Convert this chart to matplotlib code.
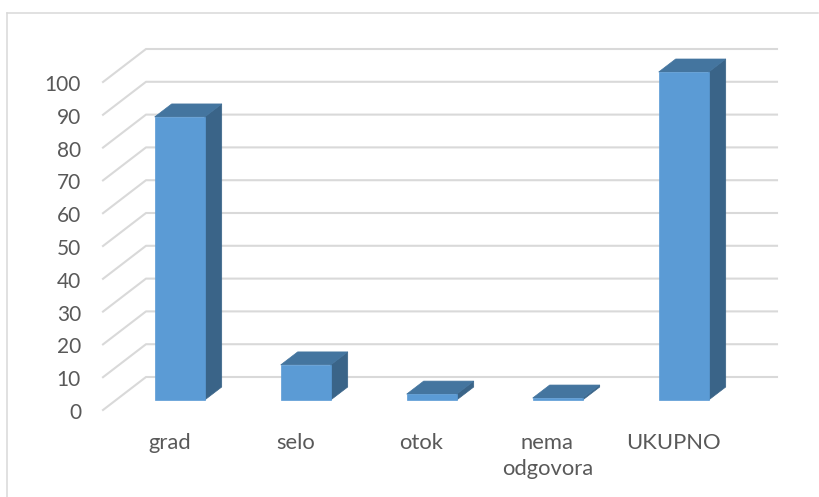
import matplotlib
matplotlib.use('Agg')
import matplotlib.pyplot as plt
from matplotlib.patches import Polygon

categories = ['grad', 'selo', 'otok', 'nema\nodgovora', 'UKUPNO']
values = [86.3, 10.7, 1.8, 0.6, 100]
y_ticks = [0, 10, 20, 30, 40, 50, 60, 70, 80, 90, 100]

W, H = 819, 497
px_per_cat = 126.0
px_per_val = 3.28
x0_px = 179.7   # centre of first bar
y0_px = 400.0   # bottom of bars

plt.rcParams['font.family'] = ['Lato', 'DejaVu Sans']

fig = plt.figure(figsize=(W / 100, H / 100), dpi=100)
ax = fig.add_axes([0, 0, 1, 1])
ax.set_xlim(-x0_px / px_per_cat, (W - x0_px) / px_per_cat)
ax.set_ylim(-(H - y0_px) / px_per_val, y0_px / px_per_val)
ax.axis('off')

# sizes in data units
bar_w = 50 / px_per_cat
dep_x = 17 / px_per_cat
dep_y = 13 / px_per_val
grid_x0 = (103 - x0_px) / px_per_cat
grid_x1 = (146 - x0_px) / px_per_cat
grid_x2 = (777 - x0_px) / px_per_cat
grid_front = -10 / px_per_val
grid_back = 23 / px_per_val

grid_col = '#d9d9d9'
text_col = '#595959'

# outer frame, only top and left show
ax.plot([7 / px_per_cat + ax.get_xlim()[0], ax.get_xlim()[1] - 1 / px_per_cat], [(400 - 13) / px_per_val] * 2,
        color=grid_col, lw=1.1)
ax.plot([7 / px_per_cat + ax.get_xlim()[0]] * 2, [(400 - 13) / px_per_val, ax.get_ylim()[0]],
        color=grid_col, lw=1.1)

for v in y_ticks:
    ax.plot([grid_x0, grid_x1, grid_x2], [v + grid_front, v + grid_back, v + grid_back],
            color=grid_col, lw=1.5, zorder=1)
    ax.text((81 - x0_px) / px_per_cat, v + grid_front - 3 / px_per_val, str(v), ha='right', va='center',
            fontsize=15, color=text_col)

for i, (name, v) in enumerate(zip(categories, values)):
    l = i - bar_w / 2
    r = i + bar_w / 2
    ax.add_patch(Polygon([(r, 0), (r + dep_x, dep_y), (r + dep_x, v + dep_y), (r, v)],
                         fc='#3a6488', ec='#3a6488', lw=0.5, zorder=3))
    ax.add_patch(Polygon([(l, v), (l + dep_x, v + dep_y), (r + dep_x, v + dep_y), (r, v)],
                         fc='#44759f', ec='#44759f', lw=0.5, zorder=3))
    ax.add_patch(Polygon([(l, 0), (r, 0), (r, v), (l, v)],
                         fc='#5b9bd5', ec='#5b9bd5', lw=0.5, zorder=4))
    ax.text(i - 10.5 / px_per_cat, -33 / px_per_val, name, ha='center', va='top',
            fontsize=15.8, color=text_col, linespacing=1.35)

fig.savefig('out.png', dpi=100)
